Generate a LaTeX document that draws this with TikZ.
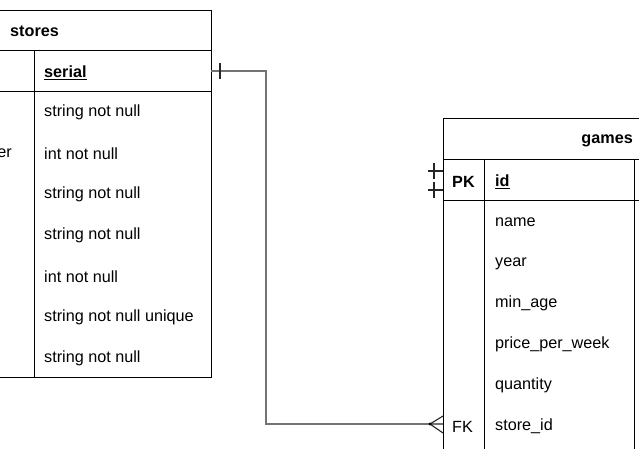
\documentclass[tikz,border=0pt]{standalone}
\usepackage{fontspec}
\setmainfont{Liberation Sans}

\begin{document}
\begin{tikzpicture}[x=1pt,y=-1pt,
  grid/.style={line width=1pt, draw=black},
  field/.style={anchor=west, inner sep=0pt, yshift=-1.5pt, font=\fontsize{16.2}{19}\selectfont},
  head/.style={field, font=\fontsize{16.2}{19}\selectfont\bfseries},
  link/.style={line width=1.3pt, draw=black!55},
  tip/.style={line width=1.1pt, draw=black!85}]
\useasboundingbox (0,0) rectangle (639,448);
\clip (0,0) rectangle (639,448);
% stores table
\draw[grid] (-180,10) rectangle (211,377);
\draw[grid] (-180,50) -- (211,50) (-180,91) -- (211,91);
\draw[grid] (34,50) -- (34,377);
\node[head] (storesTitle) at (10,30) {stores};
\node[head] (storesSerial) at (44,71) {\underline{serial}};
\node[field] (storesT1) at (44,111) {string not null};
\node[field, anchor=east] (storesN2) at (12,152) {er};
\node[field] (storesT2) at (44,152) {int not null};
\node[field] (storesT3) at (44,193) {string not null};
\node[field] (storesT4) at (44,234) {string not null};
\node[field] (storesT5) at (44,275) {int not null};
\node[field] (storesT6) at (44,316) {string not null unique};
\node[field] (storesT7) at (44,357) {string not null};
% games table
\draw[grid] (443,118) rectangle (780,470);
\draw[grid] (443,159) -- (780,159) (443,200) -- (780,200);
\draw[grid] (484,159) -- (484,470) (634,159) -- (634,470);
\node[head, anchor=east] (gamesTitle) at (633,139) {games};
\node[head] (gamesPK) at (452,180) {PK};
\node[head] (gamesId) at (495,180) {\underline{id}};
\node[field] (gamesName) at (495,221) {name};
\node[field] (gamesYear) at (495,262) {year};
\node[field] (gamesAge) at (495,302) {min\_age};
\node[field] (gamesPrice) at (495,343) {price\_per\_week};
\node[field] (gamesQty) at (495,384) {quantity};
\node[field] (gamesFK) at (452,425) {FK};
\node[field] (gamesStore) at (495,425) {store\_id};
% relation stores -> games
\coordinate (serialEnd) at (211,71);
\coordinate (storeEnd) at (443,424);
\coordinate (footTip) at (430,424);
\draw[link] (serialEnd) -- ++(55,0) |- (storeEnd);
\draw[tip] ([xshift=9pt]serialEnd) ++(0,-8) -- ++(0,16);
\draw[tip] (443,416) -- (footTip) -- (443,433);
\fill[black] (footTip) circle (1.6);
% stubs on games id
\coordinate (idEndA) at (443,171);
\coordinate (idEndB) at (443,190);
\foreach \e in {idEndA,idEndB}{
  \draw[tip] (\e) -- ++(-15,0);
  \draw[tip] ([xshift=-9pt]\e) ++(0,-8) -- ++(0,16);
}
\end{tikzpicture}
\end{document}
